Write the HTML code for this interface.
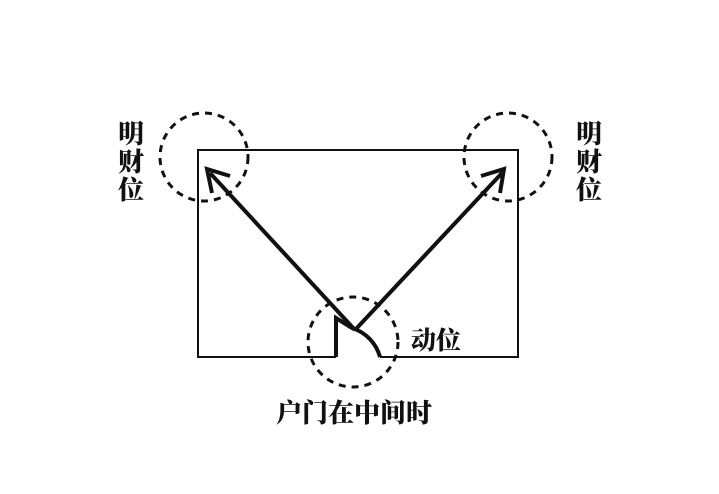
<!DOCTYPE html>
<html><head><meta charset="utf-8"><style>
html,body{margin:0;padding:0;background:#fff;}
svg{display:block}
text{font-family:"Liberation Serif","Noto Serif CJK SC",serif;font-weight:900;fill:#111;}
</style></head><body>
<svg width="719" height="494" viewBox="0 0 719 494">
<g fill="none" stroke="#111" stroke-width="2">
<path d="M336 357 H198 V150 H518 V357 H380"/>
</g>
<g fill="none" stroke="#111" stroke-width="4" stroke-linejoin="miter">
<path d="M336 357 V318 L352 328 A42 42 0 0 1 380 357"/>
<line x1="355" y1="330" x2="210" y2="173"/>
<line x1="355" y1="330" x2="502" y2="173"/>
<path d="M212 193 L207 169 L230 176"/>
<path d="M481 176 L504 169 L500 193"/>
</g>
<g fill="none" stroke="#111" stroke-width="3" stroke-dasharray="7,6">
<circle cx="204" cy="157" r="44"/>
<circle cx="508" cy="157" r="44"/>
<circle cx="353" cy="342" r="45"/>
</g>
<text x="118" y="143" font-size="26">明</text>
<text x="118" y="171" font-size="26">财</text>
<text x="118" y="199" font-size="26">位</text>
<text x="576" y="143" font-size="26">明</text>
<text x="576" y="171" font-size="26">财</text>
<text x="576" y="199" font-size="26">位</text>
<text x="411" y="349" font-size="25">动位</text>
<text x="276" y="422" font-size="26">户门在中间时</text>
</svg>
</body></html>
